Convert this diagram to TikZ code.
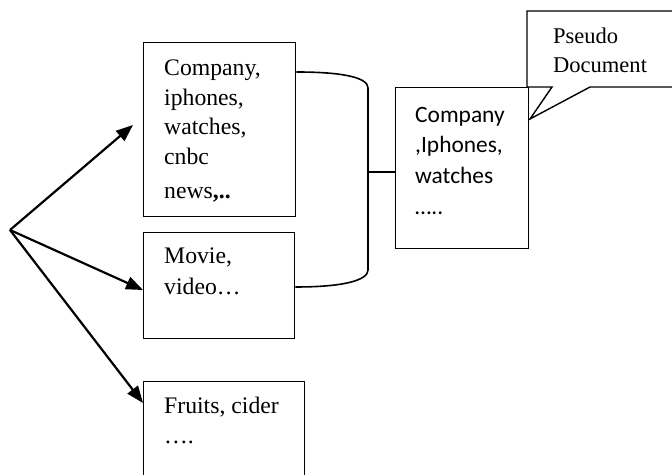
\documentclass[tikz,border=0pt]{standalone}
\usepackage{fontspec}
\setmainfont{Liberation Serif}
\newfontfamily\calibrifont{Carlito}
\usetikzlibrary{arrows.meta,calc}
\begin{document}
\begin{tikzpicture}[x=1bp,y=1bp,
  boxshape/.style={draw, line width=1.4bp, rectangle, anchor=north west, inner sep=0pt},
  boxtext/.style={anchor=north west, inner sep=0pt, align=left},
  arrowline/.style={line width=2.2bp, -{Triangle[length=17bp,width=13bp]}},
  bracket/.style={line width=1.6bp},
]
\useasboundingbox (0,0) rectangle (672,475);
\clip (0,0) rectangle (672,475);
% boxes
\node[boxshape, minimum width=152bp, minimum height=174bp] (box1) at (143,433) {};
\node[boxshape, minimum width=151bp, minimum height=106bp] (box2) at (143,243) {};
\node[boxshape, minimum width=161bp, minimum height=120bp] (box3) at (143,94) {};
\node[boxshape, minimum width=133bp, minimum height=161bp] (mid) at (395,388) {};
% callout
\draw[line width=1.4bp, fill=white] (527,464) -- (690,464) -- (690,388) -- (590,388) -- (530,356) -- (552,388) -- (527,388) -- cycle;
% texts
\node[boxtext, font=\fontsize{23.8}{30}\selectfont] (t1) at (164,421)
  {\strut Company,\\ iphones,\\ watches,\\ cnbc\\[4bp] news\textbf{,..}};
\node[boxtext, font=\fontsize{23.8}{32}\selectfont] (t2) at (164,234.4)
  {\strut Movie,\\ video…};
\node[boxtext, font=\fontsize{23.8}{30}\selectfont] (t3) at (164,83)
  {\strut Fruits, cider\\ ….};
\node[boxtext, font=\calibrifont\fontsize{23.5}{31}\selectfont] (tm) at (415,374.7)
  {\strut Company\\ ,Iphones,\\ watches\\ …..};
\node[boxtext, font=\fontsize{22.6}{29}\selectfont] (tp) at (553,452.3)
  {\strut Pseudo\\ Document};
% arrows
\coordinate (src) at (10,245);
\coordinate (a1) at (133,350);
\coordinate (a2) at ($(box2.north west)+(0,-58)$);
\coordinate (a3) at ($(box3.north west)+(0,-22)$);
\draw[arrowline] (src) -- (a1);
\draw[arrowline] (src) -- (a2);
\draw[arrowline] (src) -- (a3);
% bracket
\coordinate (b1) at ($(box1.north east)+(0,-30)$);
\coordinate (b2) at ($(box2.north east)+(0,-55)$);
\coordinate (j) at (368,303);
\draw[bracket] (b1) .. controls (345,403) and (368,397) .. (368,387)
  -- (368,205) .. controls (368,195) and (345,188) .. (b2);
\draw[bracket] (j) -- (mid.west |- j);
\end{tikzpicture}
\end{document}
